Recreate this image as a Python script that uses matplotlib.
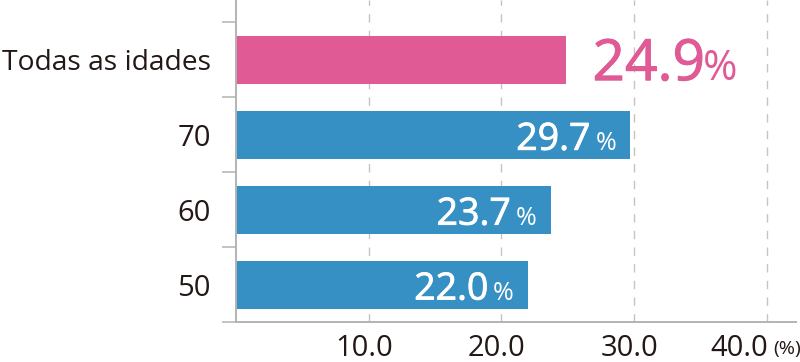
import matplotlib.pyplot as plt
import matplotlib.patheffects as pe
from matplotlib.transforms import ScaledTranslation

# data
categories = ['Todas as idades', '70', '60', '50']
values = [24.9, 29.7, 23.7, 22.0]
value_labels = ['24.9', '29.7', '23.7', '22.0']
xticks = [10, 20, 30, 40]
xtick_labels = ['10.0', '20.0', '30.0', '40.0']

pink = '#e05a95'
blue = '#3790c3'
ink = '#231815'
grey = '#b3b3b3'

plt.rcParams['font.family'] = ['Open Sans', 'DejaVu Sans']

fig = plt.figure(figsize=(8, 3.62), dpi=100)
ax = fig.add_axes([236/800, 1 - 322/362, 560/800, 322/362])

ypos = list(range(len(values)))
colors = [pink] + [blue] * (len(values) - 1)
ax.barh(ypos, values, height=0.64, color=colors, zorder=2)

ax.set_xlim(0, 42.2)
ax.set_ylim(3.5, -0.8)

# spines
for s in ['top', 'right']:
    ax.spines[s].set_visible(False)
for s in ['left', 'bottom']:
    ax.spines[s].set_color(grey)
    ax.spines[s].set_linewidth(1.4)

# y axis: labels at bar centres, small ticks between the groups
ax.set_yticks(ypos)
ax.set_yticklabels(categories, fontsize=21, color=ink)
ax.set_yticks([y - 0.5 for y in ypos] + [ypos[-1] + 0.5], minor=True)
ax.tick_params(axis='y', which='major', length=0, pad=18)
ax.tick_params(axis='y', which='minor', length=10, width=1.1, color=grey)

# x axis
ax.set_xticks(xticks)
ax.set_xticklabels(xtick_labels, fontsize=21, color=ink)
ax.tick_params(axis='x', length=0, pad=9)
ax.grid(axis='x', color='#c4c4c4', linestyle=(0, (6, 6)), linewidth=1.0, zorder=1)
ax.set_axisbelow(True)

# labels sit a little left of their gridline, the last one more so to leave room for (%)
shifts = [-5, -5, -5, -28]
for lab, dx in zip(ax.get_xticklabels(), shifts):
    lab.set_transform(lab.get_transform() + ScaledTranslation(dx / 100, 0, fig.dpi_scale_trans))

fig.text(773/800, 1 - 354/362, '(%)', fontsize=14, color=ink, ha='left', va='baseline')

fig.canvas.draw()
renderer = fig.canvas.get_renderer()

# long category label: shrink to the width it has in the reference
long_lab = ax.get_yticklabels()[0]
w = long_lab.get_window_extent(renderer).width
long_lab.set_fontsize(21 * 209 / w)

# value labels (a thin stroke in the same colour makes the numbers a bit heavier)
for i, (v, lab) in enumerate(zip(values, value_labels)):
    if i == 0:
        fx = [pe.withStroke(linewidth=0.7, foreground=pink)]
        t = ax.annotate(lab, xy=(v, i + 0.27), xytext=(26, 0), textcoords='offset pixels',
                        ha='left', va='baseline', fontsize=41, color=pink, path_effects=fx)
        w = t.get_window_extent(renderer).width
        ax.annotate('%', xy=(v, i + 0.27), xytext=(26 + w - 2, 0), textcoords='offset pixels',
                    ha='left', va='baseline', fontsize=30, color=pink)
    else:
        fx = [pe.withStroke(linewidth=0.6, foreground='white')]
        p = ax.annotate('%', xy=(v, i + 0.2), xytext=(-14, 0), textcoords='offset pixels',
                        ha='right', va='baseline', fontsize=18, color='white')
        w = p.get_window_extent(renderer).width
        ax.annotate(lab, xy=(v, i + 0.2), xytext=(-14 - w - 5, 0), textcoords='offset pixels',
                    ha='right', va='baseline', fontsize=27, color='white', path_effects=fx)

fig.savefig('out.png', dpi=100)
